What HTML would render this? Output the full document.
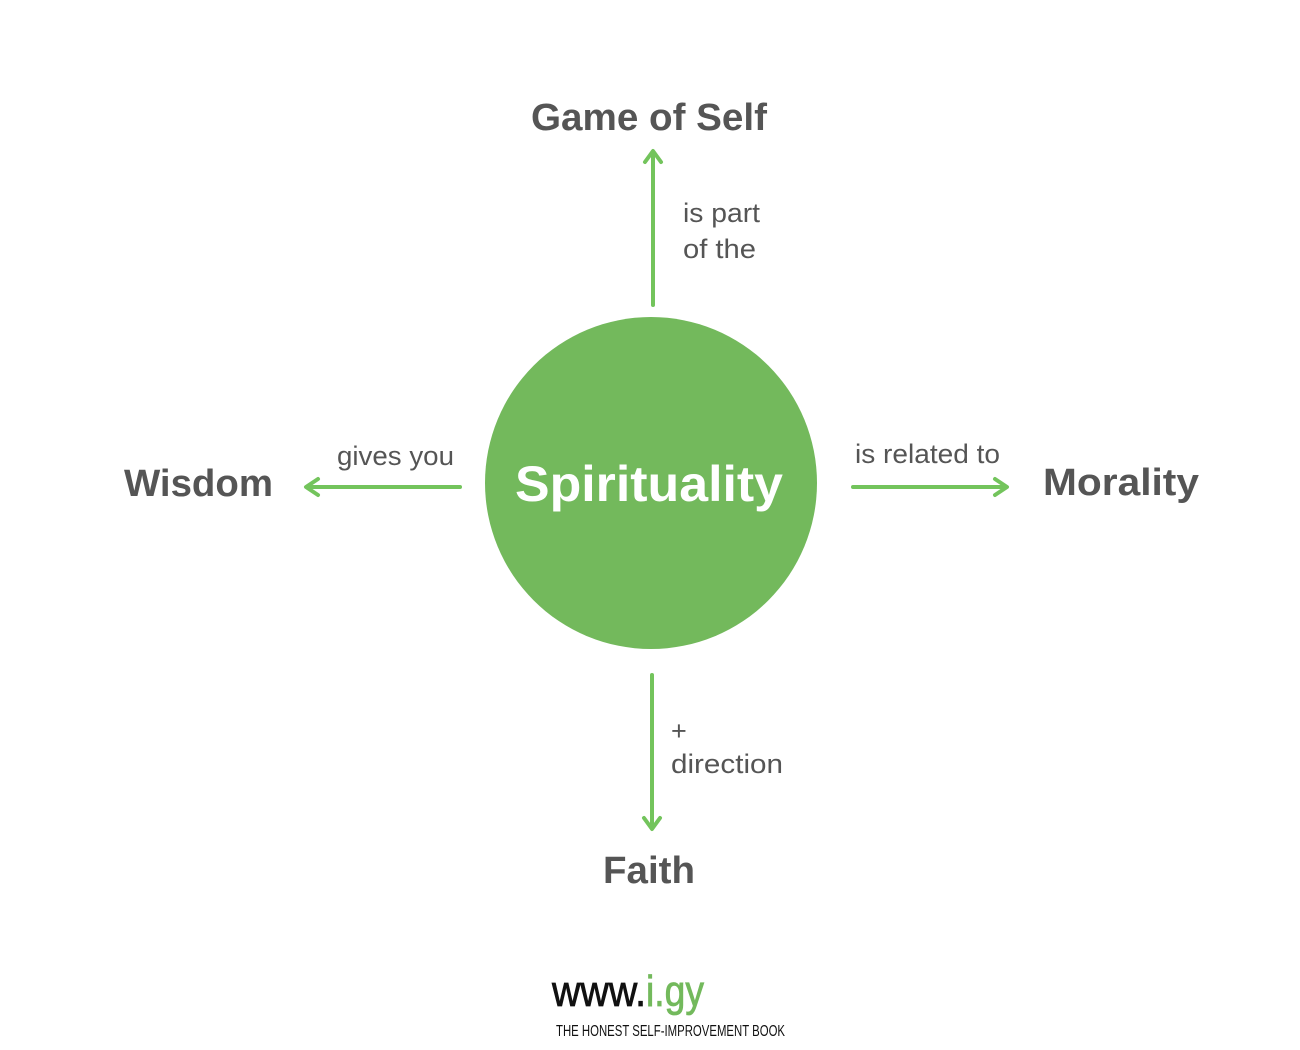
<!DOCTYPE html>
<html><head><meta charset="utf-8"><style>
html,body{margin:0;padding:0;background:#fff;}
svg{display:block;}
</style></head><body>
<svg width="1300" height="1050" viewBox="0 0 1300 1050" xmlns="http://www.w3.org/2000/svg">
<g font-family="Liberation Sans, sans-serif">
<circle cx="651" cy="483" r="166" fill="#73b95c"/>
<text x="649" y="501" text-anchor="middle" font-size="50" font-weight="bold" fill="#fff" textLength="268" lengthAdjust="spacingAndGlyphs">Spirituality</text>

<g fill="#555" font-weight="bold" font-size="38">
<text x="649" y="130" text-anchor="middle" textLength="236" lengthAdjust="spacingAndGlyphs">Game of Self</text>
<text x="124" y="496" textLength="149" lengthAdjust="spacingAndGlyphs">Wisdom</text>
<text x="1043" y="495" textLength="156" lengthAdjust="spacingAndGlyphs">Morality</text>
<text x="649" y="883" text-anchor="middle" textLength="92" lengthAdjust="spacingAndGlyphs">Faith</text>
</g>

<g fill="#555" font-size="27">
<text x="683" y="222" textLength="77" lengthAdjust="spacingAndGlyphs">is part</text>
<text x="683" y="258" textLength="73" lengthAdjust="spacingAndGlyphs">of the</text>
<text x="337" y="465" textLength="117" lengthAdjust="spacingAndGlyphs">gives you</text>
<text x="855" y="463" textLength="145" lengthAdjust="spacingAndGlyphs">is related to</text>
<text x="671" y="740">+</text>
<text x="671" y="773" textLength="112" lengthAdjust="spacingAndGlyphs">direction</text>
</g>

<g stroke="#73c45c" fill="none" stroke-linecap="round" stroke-linejoin="round">
<path d="M653 305 L653 152" stroke-width="4"/>
<path d="M645 162 L653 151 L661 162" stroke-width="4"/>
<path d="M652 675 L652 828" stroke-width="4"/>
<path d="M644 818 L652 829 L660 818" stroke-width="4"/>
<path d="M460 487 L307 487" stroke-width="4"/>
<path d="M318 479 L306 487 L318 495" stroke-width="4"/>
<path d="M853 487 L1006 487" stroke-width="4"/>
<path d="M995 479 L1007 487 L995 495" stroke-width="4"/>
</g>

<text x="552" y="1006" font-size="44" fill="#111" stroke="#111" stroke-width="0.8" textLength="94" lengthAdjust="spacingAndGlyphs">www.</text>
<text x="646" y="1006" font-size="44" fill="#73b95c" stroke="#73b95c" stroke-width="0.8" textLength="58" lengthAdjust="spacingAndGlyphs">i.gy</text>
<text x="556" y="1036" font-size="16" fill="#111" textLength="229" lengthAdjust="spacingAndGlyphs">THE HONEST SELF-IMPROVEMENT BOOK</text>
</g>
</svg>
</body></html>
